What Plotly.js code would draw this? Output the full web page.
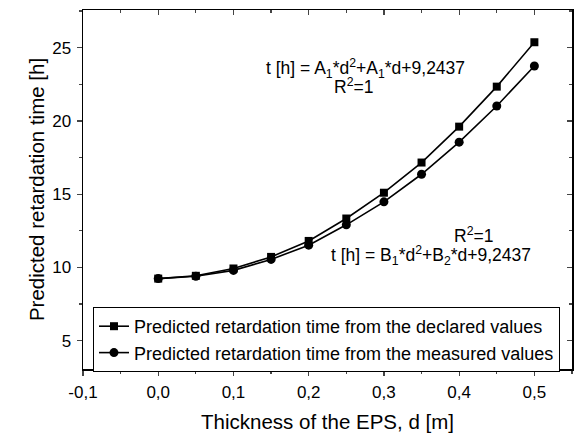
<!DOCTYPE html>
<html>
<head>
<meta charset="utf-8">
<script src="https://cdn.plot.ly/plotly-3.0.1.min.js"></script>
<style>html,body{margin:0;padding:0;background:#fff;}#chart{width:576px;height:434px;}</style>
</head>
<body>
<div id="chart"></div>
<script>
const thickness = [0, 0.05, 0.10, 0.15, 0.20, 0.25, 0.30, 0.35, 0.40, 0.45, 0.50];
const declaredTime = [9.24, 9.43, 9.93, 10.72, 11.81, 13.34, 15.10, 17.16, 19.61, 22.34, 25.37];
const measuredTime = [9.24, 9.40, 9.80, 10.55, 11.52, 12.91, 14.48, 16.36, 18.55, 21.02, 23.75];
const seriesNames = ["Predicted retardation time from the declared values", "Predicted retardation time from the measured values"];
const xTickVals = [-0.1, 0, 0.1, 0.2, 0.3, 0.4, 0.5];
const xTickText = ["-0,1", "0,0", "0,1", "0,2", "0,3", "0,4", "0,5"];
const yTickVals = [5, 10, 15, 20, 25];
const yTickText = ["5", "10", "15", "20", "25"];
const xTitle = "Thickness of the EPS, d [m]";
const yTitle = "Predicted retardation time [h]";
const eqA = "t [h] = A<sub>1</sub>*d<sup>2</sup>+A<sub>1</sub>*d+9,2437";
const eqB = "t [h] = B<sub>1</sub>*d<sup>2</sup>+B<sub>2</sub>*d+9,2437";
const r2 = "R<sup>2</sup>=1";

const F = "Arial, 'Liberation Sans', sans-serif";
const traces = [
  {x: thickness, y: declaredTime, name: seriesNames[0], mode: "lines+markers",
   line: {color: "#000", width: 1.6}, marker: {symbol: "square", size: 8, color: "#000"}},
  {x: thickness, y: measuredTime, name: seriesNames[1], mode: "lines+markers",
   line: {color: "#000", width: 1.6}, marker: {symbol: "circle", size: 9, color: "#000"}},
  {x: [0], y: [10], xaxis: "x2", yaxis: "y2", mode: "markers", marker: {opacity: 0}, showlegend: false, hoverinfo: "skip"}
];
const xr = [-0.1, 0.55], yr = [3.07, 27.57];
const layout = {
  width: 576, height: 434,
  margin: {l: 83, r: 4, t: 10, b: 65},
  paper_bgcolor: "#fff", plot_bgcolor: "#fff",
  font: {family: F, color: "#000"},
  showlegend: true,
  xaxis: {range: xr, tickmode: "array", tickvals: xTickVals, ticktext: xTickText, ticks: "outside", ticklen: 5, tickwidth: 1.2,
    minor: {dtick: 0.05, tick0: 0, ticks: "outside", ticklen: 3, tickwidth: 1.2, showgrid: false},
    ticklabelstandoff: 2,
    showgrid: false, zeroline: false, showline: true, linecolor: "#000", linewidth: 1.5,
    tickfont: {size: 17, family: F}, title: {text: xTitle, font: {size: 20.5, family: F}, standoff: 13}},
  yaxis: {range: yr, tickmode: "array", tickvals: yTickVals, ticktext: yTickText, ticks: "outside", ticklen: 5, tickwidth: 1.2,
    minor: {dtick: 2.5, tick0: 0, ticks: "outside", ticklen: 3, tickwidth: 1.2, showgrid: false},
    ticklabelstandoff: 2,
    showgrid: false, zeroline: false, showline: true, linecolor: "#000", linewidth: 1.5,
    tickfont: {size: 17, family: F}, title: {text: yTitle, font: {size: 20.5, family: F}, standoff: 2}},
  xaxis2: {range: xr, overlaying: "x", side: "top", anchor: "y", dtick: 0.1, tick0: 0, ticks: "inside", ticklen: 5, tickwidth: 1.2,
    minor: {dtick: 0.05, ticks: "inside", ticklen: 3, tickwidth: 1.2, showgrid: false},
    showticklabels: false, showgrid: false, zeroline: false, showline: true, linecolor: "#000", linewidth: 1.5},
  yaxis2: {range: yr, overlaying: "y", side: "right", anchor: "x", dtick: 5, tick0: 0, ticks: "inside", ticklen: 5, tickwidth: 1.2,
    minor: {dtick: 2.5, ticks: "inside", ticklen: 3, tickwidth: 1.2, showgrid: false},
    showticklabels: false, showgrid: false, zeroline: false, showline: true, linecolor: "#000", linewidth: 1.5},
  legend: {x: 0.0204, y: 0.1727, xanchor: "left", yanchor: "top", bordercolor: "#000", borderwidth: 1,
    bgcolor: "#fff", font: {size: 18, family: F}, tracegroupgap: 0},
  annotations: [
    {x: 0.276, y: 23.6, xref: "x", yref: "y", text: eqA, showarrow: false, font: {size: 17.5, family: F}},
    {x: 0.26, y: 22.35, xref: "x", yref: "y", text: r2, showarrow: false, font: {size: 17.5, family: F}},
    {x: 0.419, y: 12.2, xref: "x", yref: "y", text: r2, showarrow: false, font: {size: 17.5, family: F}},
    {x: 0.363, y: 10.85, xref: "x", yref: "y", text: eqB, showarrow: false, font: {size: 17.5, family: F}}
  ]
};
Plotly.newPlot("chart", traces, layout, {displayModeBar: false, staticPlot: true});
</script>
</body>
</html>
